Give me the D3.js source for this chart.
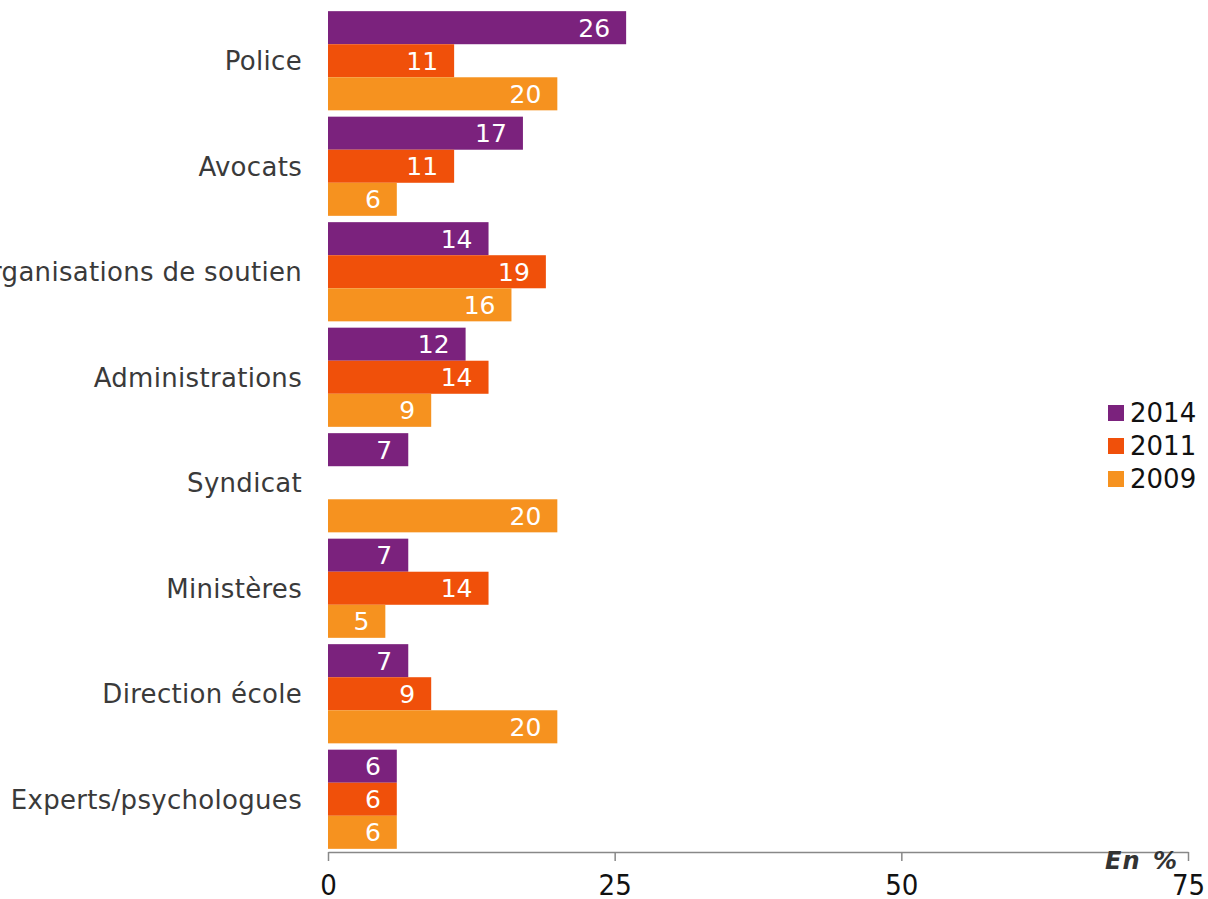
<!DOCTYPE html>
<html>
<head>
<meta charset="utf-8">
<script src="https://cdn.jsdelivr.net/npm/d3@7"></script>
<style>
	body { margin: 0; background: #fff; }
	svg { display: block; font-family: "DejaVu Sans", Verdana, sans-serif; }
</style>
</head>
<body>
<svg id="chart"></svg>
<script>
//categories and series
var categories = ["Police", "Avocats", "Organisations de soutien", "Administrations", "Syndicat", "Ministères", "Direction école", "Experts/psychologues"];
var years = ["2014", "2011", "2009"];
var values2014 = [26, 17, 14, 12, 7, 7, 7, 6];
var values2011 = [11, 11, 19, 14, null, 14, 9, 6];
var values2009 = [20, 6, 16, 9, 20, 5, 20, 6];
var colors = ["#7b227d", "#f0500a", "#f6921f"];
var xTicks = [0, 25, 50, 75];

var width = 1208, height = 899;
var svg = d3.select("#chart").attr("width", width).attr("height", height);

var x = d3.scaleLinear().domain([0, 75]).range([328, 1188]);
var y = d3.scaleBand().domain(categories).range([8, 852]).paddingInner(0.06).paddingOuter(0.03);
var ySub = d3.scaleBand().domain(years).range([0, y.bandwidth()]);

var series = [values2014, values2011, values2009];
var rows = [];
categories.forEach(function(c, i) {
	years.forEach(function(yr, j) {
		if (series[j][i] != null) rows.push({ cat: c, year: yr, val: series[j][i], col: colors[j] });
	});
});

//bars
var g = svg.append("g");
g.selectAll("rect").data(rows).enter().append("rect")
	.attr("x", x(0))
	.attr("y", function(d) { return y(d.cat) + ySub(d.year); })
	.attr("width", function(d) { return x(d.val) - x(0); })
	.attr("height", ySub.bandwidth())
	.attr("fill", function(d) { return d.col; });

//value labels
g.selectAll("text.val").data(rows).enter().append("text")
	.attr("class", "val")
	.attr("x", function(d) { return x(d.val) - 16; })
	.attr("y", function(d) { return y(d.cat) + ySub(d.year) + ySub.bandwidth() / 2; })
	.attr("dy", "0.36em")
	.attr("text-anchor", "end")
	.attr("fill", "#fff")
	.style("font-size", "25px")
	.text(function(d) { return d.val; });

//category labels (the first letter of the long one is cut at the edge, as in the original)
svg.append("g").selectAll("text").data(categories).enter().append("text")
	.attr("x", 302)
	.attr("y", function(d) { return y(d) + y.bandwidth() / 2; })
	.attr("dy", "0.36em")
	.attr("text-anchor", "end")
	.attr("fill", "#3a3a3a")
	.style("font-size", "26px")
	.style("letter-spacing", "0.3px")
	.text(function(d) { return d; });

//x axis
var axis = svg.append("g").attr("transform", "translate(0,852)")
	.call(d3.axisBottom(x).tickValues(xTicks).tickSize(9).tickSizeOuter(0));
axis.select(".domain").attr("stroke", "#888").attr("stroke-width", 1.5);
axis.selectAll(".tick line").attr("stroke", "#888").attr("stroke-width", 1.5);
axis.selectAll(".tick text")
	.attr("y", 43).attr("dy", 0)
	.attr("fill", "#111")
	.style("font-size", "29px")
	.style("font-family", "'DejaVu Sans'")
	.style("font-stretch", "condensed");

//unit
svg.append("text")
	.attr("x", 1178).attr("y", 869)
	.attr("text-anchor", "end")
	.attr("fill", "#333")
	.style("font-size", "24px")
	.style("font-weight", "bold")
	.style("font-style", "italic")
	.style("letter-spacing", "1px")
	.style("word-spacing", "3px")
	.text("En %");

//legend
var leg = svg.append("g").selectAll("g").data(years).enter().append("g")
	.attr("transform", function(d, i) { return "translate(1108," + (413 + i * 33) + ")"; });
leg.append("rect").attr("x", 0).attr("y", -8).attr("width", 16).attr("height", 16)
	.attr("fill", function(d, i) { return colors[i]; });
leg.append("text").attr("x", 22).attr("y", 0).attr("dy", "0.36em")
	.attr("fill", "#111")
	.style("font-size", "26px")
	.text(function(d) { return d; });
</script>
</body>
</html>
